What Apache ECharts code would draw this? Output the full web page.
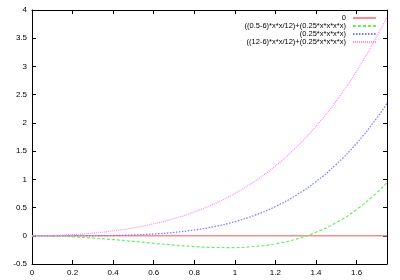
<!DOCTYPE html>
<html><head><meta charset="utf-8">
<script src="https://cdn.jsdelivr.net/npm/echarts@6/dist/echarts.min.js"></script>
<style>html,body{margin:0;padding:0;background:#fff}#c{width:400px;height:280px}</style>
</head><body><div id="c"></div>
<script>
var xs = [0, 0.1, 0.2, 0.3, 0.4, 0.5, 0.6, 0.7, 0.8, 0.9, 1.0, 1.1, 1.2, 1.3, 1.4, 1.5, 1.6, 1.7, 1.75];
var zeroVals = [0, 0, 0, 0, 0, 0, 0, 0, 0, 0, 0, 0, 0, 0, 0, 0, 0, 0, 0];
var greenVals = [0, -0.0046, -0.0179, -0.0392, -0.0669, -0.099, -0.1326, -0.1646, -0.1909, -0.2073, -0.2083, -0.1886, -0.142, -0.0606, 0.0617, 0.2344, 0.4651, 0.7634, 0.9414];
var blueVals = [0, 0.00003, 0.0004, 0.002, 0.0064, 0.0156, 0.0324, 0.06, 0.1024, 0.164, 0.25, 0.366, 0.518, 0.714, 0.960, 1.266, 1.638, 2.088, 2.345];
var magentaVals = [0, 0.005, 0.0204, 0.047, 0.0864, 0.1406, 0.2124, 0.305, 0.4224, 0.569, 0.75, 0.971, 1.238, 1.559, 1.940, 2.391, 2.918, 3.533, 3.876];
var names = ['0', '((0.5-6)*x*x/12)+(0.25*x*x*x*x)', '(0.25*x*x*x*x)', '((12-6)*x*x/12)+(0.25*x*x*x*x)'];

function pts(v) { return xs.map(function (x, i) { return [x, v[i]]; }); }

var font = 'Liberation Sans, Arial, sans-serif';
var chart = echarts.init(document.getElementById('c'), null, { renderer: 'canvas' });
var axLine = { show: true, onZero: false, lineStyle: { color: '#000', width: 1 } };
var tick = { show: true, inside: true, length: 4, lineStyle: { color: '#000' } };
chart.setOption({
  animation: false,
  backgroundColor: '#fff',
  grid: { left: 32, right: 13, top: 10, bottom: 16, containLabel: false },
  legend: {
    orient: 'vertical', right: 18, top: 9, align: 'right',
    itemWidth: 23, itemHeight: 6, itemGap: 0,
    itemStyle: { opacity: 0 },
    textStyle: { fontFamily: font, fontSize: 7.5, color: '#000', padding: [0, 2, 0, 0], lineHeight: 8 },
    data: names
  },
  xAxis: [
    { type: 'value', min: 0, max: 1.75, interval: 0.2, position: 'bottom',
      axisLine: axLine, axisTick: tick, splitLine: { show: false },
      axisLabel: { fontFamily: font, fontSize: 8, color: '#000', margin: 5, showMaxLabel: false } },
    { type: 'value', min: 0, max: 1.75, interval: 0.2, position: 'top',
      axisLine: axLine, axisTick: tick, splitLine: { show: false }, axisLabel: { show: false } }
  ],
  yAxis: [
    { type: 'value', min: -0.5, max: 4, interval: 0.5, position: 'left',
      axisLine: axLine, axisTick: tick, splitLine: { show: false },
      axisLabel: { fontFamily: font, fontSize: 8, color: '#000', margin: 5 } },
    { type: 'value', min: -0.5, max: 4, interval: 0.5, position: 'right',
      axisLine: axLine, axisTick: tick, splitLine: { show: false }, axisLabel: { show: false } }
  ],
  series: [
    { name: names[0], type: 'line', data: pts(zeroVals), showSymbol: false, symbol: 'none',
      color: '#ff8c8c', lineStyle: { color: '#ff8c8c', width: 1.6, type: 'solid' }, z: 1 },
    { name: names[1], type: 'line', data: pts(greenVals), smooth: true, showSymbol: false, symbol: 'none',
      color: '#66ee66', lineStyle: { color: '#66ee66', width: 1.2, type: [3, 2] } },
    { name: names[2], type: 'line', data: pts(blueVals), smooth: true, showSymbol: false, symbol: 'none',
      color: '#7777ff', lineStyle: { color: '#7777ff', width: 1.2, type: [1.5, 1.5] } },
    { name: names[3], type: 'line', data: pts(magentaVals), smooth: true, showSymbol: false, symbol: 'none',
      color: '#ff88ff', lineStyle: { color: '#ff88ff', width: 1.2, type: [1, 1] } }
  ]
});
</script></body></html>
